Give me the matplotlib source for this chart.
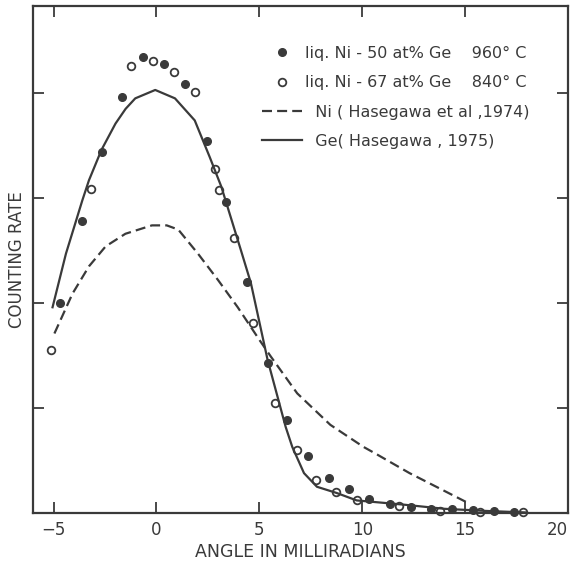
import matplotlib
matplotlib.use("Agg")
import matplotlib.pyplot as plt

# filled dots: liq. Ni-50 at% Ge, 960 C
ni50_x = [-4.67, -3.63, -2.67, -1.67, -0.67, 0.37, 1.38, 2.46, 3.39, 4.39, 5.40, 6.36,
          7.36, 8.39, 9.36, 10.35, 11.34, 12.39, 13.35, 14.36, 15.4, 16.4, 17.37]
ni50_y = [2.00, 2.78, 3.44, 3.96, 4.34, 4.28, 4.09, 3.54, 2.96, 2.20, 1.43, 0.89,
          0.54, 0.33, 0.23, 0.13, 0.09, 0.06, 0.035, 0.035, 0.03, 0.02, 0.01]

# open circles: liq. Ni-67 at% Ge, 840 C
ni67_x = [-5.12, -3.17, -1.22, -0.18, 0.83, 1.85, 2.84, 3.02, 3.79, 4.71, 5.75, 6.84,
          7.76, 8.74, 9.73, 11.78, 13.78, 15.74, 17.8]
ni67_y = [1.55, 3.09, 4.26, 4.31, 4.20, 4.01, 3.28, 3.08, 2.62, 1.81, 1.05, 0.60,
          0.31, 0.20, 0.12, 0.067, 0.022, 0.008, 0.005]

# Ni (Hasegawa et al, 1974) - dashed
ni_x = [-4.96, -4.08, -3.28, -2.47, -1.51, -0.22, 0.5, 1.06, 2.02, 2.99, 3.95, 5.0,
        5.56, 6.84, 8.45, 10.06, 10.7, 12.3, 13.9, 15.1]
ni_y = [1.71, 2.09, 2.35, 2.54, 2.66, 2.74, 2.74, 2.70, 2.47, 2.22, 1.96, 1.65,
        1.49, 1.14, 0.84, 0.63, 0.56, 0.38, 0.22, 0.10]

# Ge (Hasegawa, 1975) - solid
ge_x = [-5.05, -4.4, -3.6, -3.28, -2.67, -1.99, -1.5, -1.03, -0.06, 0.9, 1.86, 2.59,
        3.15, 4.11, 4.59, 5.4, 6.28, 6.6, 7.17, 7.8, 8.77, 9.73, 12, 14, 16, 18]
ge_y = [1.96, 2.47, 2.98, 3.17, 3.46, 3.71, 3.85, 3.95, 4.03, 3.95, 3.74, 3.39,
        3.11, 2.50, 2.19, 1.46, 0.82, 0.63, 0.38, 0.25, 0.19, 0.12, 0.08, 0.04, 0.02, 0.005]

x_ticks = [-5, 0, 5, 10, 15, 20]
y_ticks = [1, 2, 3, 4]

labels = ["liq. Ni - 50 at% Ge    960° C",
          "liq. Ni - 67 at% Ge    840° C",
          "  Ni ( Hasegawa et al ,1974)",
          "  Ge( Hasegawa , 1975)"]

ink = "#3a3a3a"

fig = plt.figure(figsize=(5.74, 5.64), dpi=100)
ax = fig.add_axes([0.0575, 0.0904, 0.932, 0.899])

h1, = ax.plot(ni50_x, ni50_y, "o", ms=5.5, color=ink, mec=ink, clip_on=False)
h2, = ax.plot(ni67_x, ni67_y, "o", ms=5.5, mfc="white", mec=ink, mew=1.3, clip_on=False)
h3, = ax.plot(ni_x, ni_y, color=ink, lw=1.6, dashes=(4.5, 2.3))
h4, = ax.plot(ge_x, ge_y, color=ink, lw=1.6)

ax.set_xlim(-6.0, 19.8)
ax.set_ylim(0, 4.83)
ax.set_xticks(x_ticks)
ax.set_yticks(y_ticks)
ax.set_yticklabels([])
ax.tick_params(direction="in", length=8, width=1.3, color=ink, labelcolor=ink,
               labelsize=12, top=True, right=True, pad=6)
# keep the last label ("20") inside the figure
ax.get_xticklabels()[-1].set_horizontalalignment("right")
for s in ax.spines.values():
    s.set_linewidth(1.6)
    s.set_color(ink)

ax.set_xlabel("ANGLE IN MILLIRADIANS", fontsize=12.5, color=ink)
ax.xaxis.set_label_coords(0.5, -0.060)
ax.set_ylabel("COUNTING RATE", fontsize=12, color=ink)
ax.yaxis.set_label_coords(-0.014, 0.5)

ax.legend([h1, h2, h3, h4], labels, loc="upper left", bbox_to_anchor=(0.414, 0.937),
          frameon=False, fontsize=11.5, handlelength=2.5, handletextpad=0.15,
          labelspacing=0.9, borderpad=0, labelcolor=ink)

fig.savefig("out.png", dpi=100)
